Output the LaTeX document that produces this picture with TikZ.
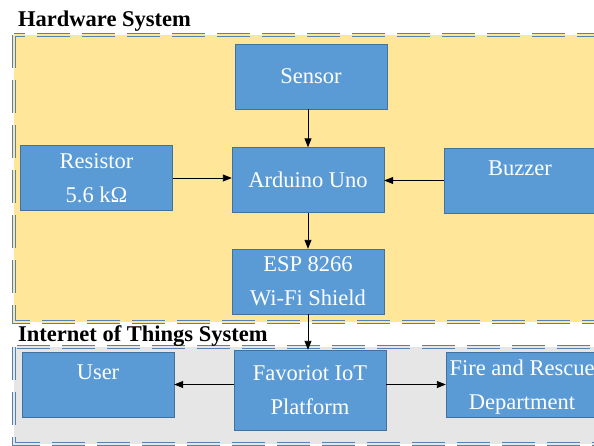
\documentclass[tikz,border=0pt]{standalone}
\usepackage{fontspec}
\setmainfont{Liberation Serif}
\usetikzlibrary{arrows.meta}

\definecolor{boxblue}{RGB}{91,155,213}
\definecolor{boxedge}{RGB}{65,113,156}
\definecolor{hwyellow}{RGB}{255,230,153}
\definecolor{iotgray}{RGB}{231,230,230}
\definecolor{dashblue}{RGB}{84,130,180}

\begin{document}
\begin{tikzpicture}[x=1pt, y=-1pt, >={Triangle[length=9pt,width=7pt]}]

%-------------------------------------------------
% Styles
%-------------------------------------------------
\tikzset{
  block/.style={draw=boxedge, fill=boxblue, text=white, minimum width=152pt, minimum height=65pt, align=center, inner sep=0pt, font=\fontsize{22.5}{34}\selectfont},
  twoline/.style={block, text depth=0pt},
  tallblock/.style={twoline, minimum height=80pt},
  region/.style={draw=dashblue, line width=1pt, double distance=1.6pt, dash pattern=on 33pt off 12pt},
  title/.style={anchor=base west, inner sep=0pt, font=\fontsize{22.5}{26}\selectfont\bfseries},
  link/.style={->, black, line width=0.9pt}
}

% Page frame
\clip (0,0) rectangle (594,445);

%-------------------------------------------------
% Regions
%-------------------------------------------------
\draw[region, fill=hwyellow, double=hwyellow] (14,35) rectangle (610,322);
\draw[region, fill=iotgray, double=iotgray] (14,347) rectangle (610,444);

\node[title] (hwtitle) at (18,26) {Hardware System};
\node[title] (iottitle) at (18,341) {Internet of Things System};

%-------------------------------------------------
% Hardware blocks
%-------------------------------------------------
\node[block] (sensor) at (311,76.5) {Sensor};
\node[block] (arduino) at (308,180) {Arduino Uno};
\node[twoline] (resistor) at (96.5,178) {Resistor\\5.6 kΩ};
\node[block] (buzzer) at (520,180.5) {Buzzer\\[-10pt]\mbox{}};
\node[twoline] (esp) at (308,281.5) {ESP 8266\\Wi-Fi Shield};

%-------------------------------------------------
% IoT blocks
%-------------------------------------------------
\node[block] (user) at (98,384.5) {User\\[-10pt]\mbox{}};
\node[tallblock] (favoriot) at (310,390) {Favoriot IoT\\Platform};
\node[twoline] (fire) at (522,384.5) {Fire and Rescue\\Department};

%-------------------------------------------------
% Connections
%-------------------------------------------------
\draw[link] (sensor.south -| arduino.north) -- (arduino.north);
\draw[link] (resistor.east) -- (resistor.east -| arduino.west);
\draw[link] (buzzer.west) -- (buzzer.west -| arduino.east);
\draw[link] (arduino.south) -- (esp.north);
\draw[link] (esp.south) -- (favoriot.north -| esp.south);
\draw[link] (favoriot.west |- user.east) -- (user.east);
\draw[link] (favoriot.east |- fire.west) -- (fire.west);

\end{tikzpicture}
\end{document}
